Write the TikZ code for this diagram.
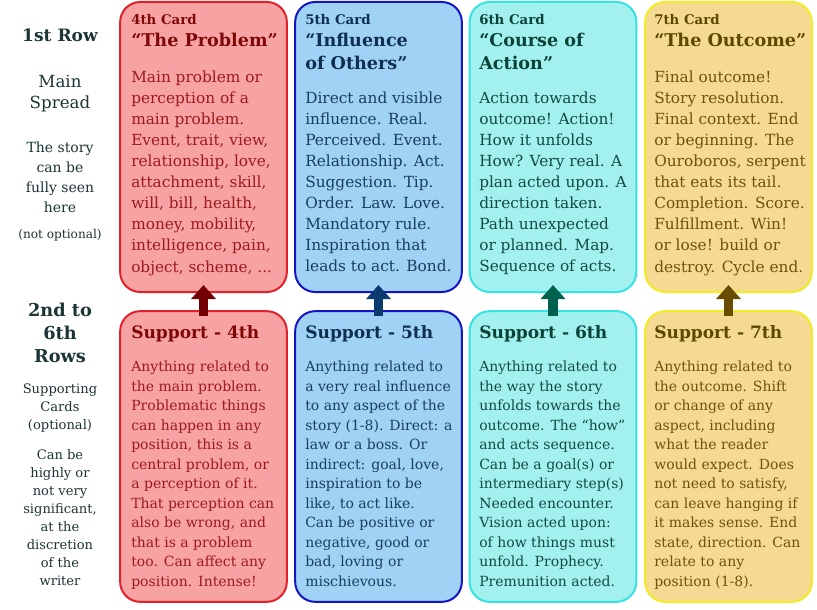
\documentclass[tikz,border=0pt]{standalone}
\usepackage{fontspec}
\setmainfont{DejaVu Serif}
\usetikzlibrary{arrows.meta}

\definecolor{redfill}{HTML}{F7A3A3}\definecolor{redline}{HTML}{E2202A}
\definecolor{redhead}{HTML}{7E0808}\definecolor{redtext}{HTML}{9C1A1E}
\definecolor{redarrow}{HTML}{720004}
\definecolor{bluefill}{HTML}{A0D2F6}\definecolor{blueline}{HTML}{1414C4}
\definecolor{bluehead}{HTML}{0E2F4E}\definecolor{bluetext}{HTML}{183E5E}
\definecolor{bluearrow}{HTML}{0B3A6E}
\definecolor{cyanfill}{HTML}{A3F1EE}\definecolor{cyanline}{HTML}{36E3E3}
\definecolor{cyanhead}{HTML}{0B4238}\definecolor{cyantext}{HTML}{124A42}
\definecolor{cyanarrow}{HTML}{00614F}
\definecolor{goldfill}{HTML}{F5DA93}\definecolor{goldline}{HTML}{F2EC24}
\definecolor{goldhead}{HTML}{5E4700}\definecolor{goldtext}{HTML}{6E5408}
\definecolor{goldarrow}{HTML}{6A4C00}
\definecolor{sidetext}{HTML}{1C3434}

\tikzset{
  card/.style={draw, line width=1.5pt, rounded corners=15pt, minimum width=125pt, minimum height=217.5pt, inner sep=0pt},
  cardno/.style={anchor=base west, inner sep=0pt, font=\fontsize{10}{12}\bfseries},
  cardtitle/.style={anchor=north west, inner sep=0pt, align=left, font=\fontsize{13.2}{17}\bfseries},
  suptitle/.style={anchor=base west, inner sep=0pt, font=\fontsize{12.8}{15}\bfseries},
  cardbody/.style={anchor=north west, inner sep=0pt, align=left, font=\fontsize{11.5}{15.8}\selectfont},
  supbody/.style={cardbody, font=\fontsize{10.5}{14.6}\selectfont},
  side/.style={anchor=north, inner sep=0pt, align=center, text=sidetext},
  upto/.style={-{Triangle[length=10.5pt,width=18pt]}, line width=7pt}
}

\begin{document}
\begin{tikzpicture}[x=0.75pt,y=-0.75pt]
  \useasboundingbox (0,0) rectangle (817,610);

  % left column
  \node[side, anchor=base, font=\fontsize{12.8}{16}\bfseries] (row1) at (60,42) {1st Row};
  \node[side, font=\fontsize{12.5}{15.8}\selectfont] (main) at (60,75) {Main\\Spread};
  \node[side, font=\fontsize{10.5}{15}\selectfont] (story) at (60,142) {The story\\can be\\fully seen\\here};
  \node[side, anchor=base, font=\fontsize{9.1}{11}\selectfont] (notopt) at (60,238) {(not optional)};
  \node[side, font=\fontsize{13.3}{17}\bfseries] (rows) at (60,303) {2nd to\\6th\\Rows};
  \node[side, font=\fontsize{9.8}{13.5}\selectfont] (supcards) at (60,384) {Supporting\\Cards\\(optional)};
  \node[side, font=\fontsize{9.8}{13.5}\selectfont] (discr) at (60,449) {Can be\\highly or\\not very\\significant,\\at the\\discretion\\of the\\writer};

  % first row: main spread
  \node[card, draw=redline, fill=redfill] (prob) at (203.5,147) {};
  \node[cardno, text=redhead] (probno) at (131,25) {4th Card};
  \node[cardtitle, text=redhead] (probtitle) at (131,33) {“The Problem”};
  \node[cardbody, text=redtext] (probtext) at (131,70.5) {Main problem or\\perception of a\\main problem.\\Event, trait, view,\\relationship, love,\\attachment, skill,\\will, bill, health,\\money, mobility,\\intelligence, pain,\\object, scheme, ...};

  \node[card, draw=blueline, fill=bluefill] (infl) at (378.5,147) {};
  \node[cardno, text=bluehead] (inflno) at (305,25) {5th Card};
  \node[cardtitle, text=bluehead] (infltitle) at (305,33) {“Influence\\of Others”};
  \node[cardbody, text=bluetext] (infltext) at (305,91.5) {Direct and visible\\influence. Real.\\Perceived. Event.\\Relationship. Act.\\Suggestion. Tip.\\Order. Law. Love.\\Mandatory rule.\\Inspiration that\\leads to act. Bond.};

  \node[card, draw=cyanline, fill=cyanfill] (course) at (553,147) {};
  \node[cardno, text=cyanhead] (courseno) at (479,25) {6th Card};
  \node[cardtitle, text=cyanhead] (coursetitle) at (479,33) {“Course of\\Action”};
  \node[cardbody, text=cyantext] (coursetext) at (479,91.5) {Action towards\\outcome! Action!\\How it unfolds\\How? Very real. A\\plan acted upon. A\\direction taken.\\Path unexpected\\or planned. Map.\\Sequence of acts.};

  \node[card, draw=goldline, fill=goldfill] (outc) at (728.5,147) {};
  \node[cardno, text=goldhead] (outcno) at (654,25) {7th Card};
  \node[cardtitle, text=goldhead] (outctitle) at (654,33) {“The Outcome”};
  \node[cardbody, text=goldtext] (outctext) at (654,70.5) {Final outcome!\\Story resolution.\\Final context. End\\or beginning. The\\Ouroboros, serpent\\that eats its tail.\\Completion. Score.\\Fulfillment. Win!\\or lose! build or\\destroy. Cycle end.};

  % second to sixth rows: supporting cards
  \node[card, draw=redline, fill=redfill, minimum height=218pt] (supprob) at (203.5,456.5) {};
  \node[suptitle, text=redhead] (supprobtitle) at (131,338) {Support - 4th};
  \node[supbody, text=redtext] (supprobtext) at (131,361) {Anything related to\\the main problem.\\Problematic things\\can happen in any\\position, this is a\\central problem, or\\a perception of it.\\That perception can\\also be wrong, and\\that is a problem\\too. Can affect any\\position. Intense!};

  \node[card, draw=blueline, fill=bluefill, minimum height=218pt] (supinfl) at (378.5,456.5) {};
  \node[suptitle, text=bluehead] (supinfltitle) at (305,338) {Support - 5th};
  \node[supbody, text=bluetext] (supinfltext) at (305,361) {Anything related to\\a very real influence\\to any aspect of the\\story (1-8). Direct: a\\law or a boss. Or\\indirect: goal, love,\\inspiration to be\\like, to act like.\\Can be positive or\\negative, good or\\bad, loving or\\mischievous.};

  \node[card, draw=cyanline, fill=cyanfill, minimum height=218pt] (supcourse) at (553,456.5) {};
  \node[suptitle, text=cyanhead] (supcoursetitle) at (479,338) {Support - 6th};
  \node[supbody, text=cyantext] (supcoursetext) at (479,361) {Anything related to\\the way the story\\unfolds towards the\\outcome. The “how”\\and acts sequence.\\Can be a goal(s) or\\intermediary step(s)\\Needed encounter.\\Vision acted upon:\\of how things must\\unfold. Prophecy.\\Premunition acted.};

  \node[card, draw=goldline, fill=goldfill, minimum height=218pt] (supoutc) at (728.5,456.5) {};
  \node[suptitle, text=goldhead] (supoutctitle) at (654,338) {Support - 7th};
  \node[supbody, text=goldtext] (supoutctext) at (654,361) {Anything related to\\the outcome. Shift\\or change of any\\aspect, including\\what the reader\\would expect. Does\\not need to satisfy,\\can leave hanging if\\it makes sense. End\\state, direction. Can\\relate to any\\position (1-8).};

  % arrows from support to main
  \draw[upto, redarrow] ([yshift=-4.5pt]supprob.north) -- ([yshift=6pt]prob.south);
  \draw[upto, bluearrow] ([yshift=-4.5pt]supinfl.north) -- ([yshift=6pt]infl.south);
  \draw[upto, cyanarrow] ([yshift=-4.5pt]supcourse.north) -- ([yshift=6pt]course.south);
  \draw[upto, goldarrow] ([yshift=-4.5pt]supoutc.north) -- ([yshift=6pt]outc.south);
\end{tikzpicture}
\end{document}
